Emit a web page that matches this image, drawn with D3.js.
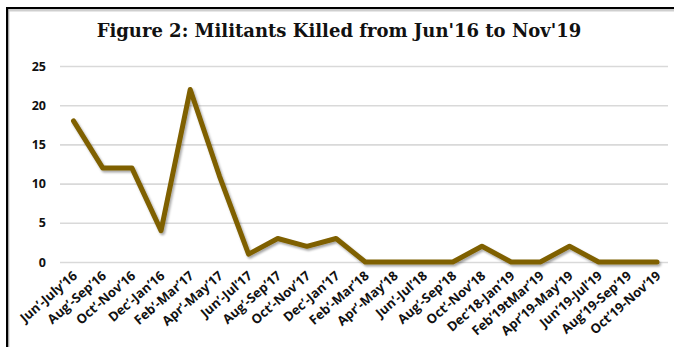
<!DOCTYPE html>
<html>
<head>
<meta charset="utf-8">
<script src="https://cdn.jsdelivr.net/npm/d3@7"></script>
<style>
  html, body { margin: 0; padding: 0; background: #fff; }
  svg { display: block; }
</style>
</head>
<body>
<svg id="chart" width="674" height="347"></svg>
<script>
// Two-month periods and militants killed in each
const periods = [
  "Jun’-July’16", "Aug’-Sep’16", "Oct’-Nov’16", "Dec’-Jan’16", "Feb’-Mar’17",
  "Apr’-May’17", "Jun’-Jul’17", "Aug’-Sep’17", "Oct’-Nov’17", "Dec’-Jan’17",
  "Feb’-Mar’18", "Apr’-May’18", "Jun’-Jul’18", "Aug’-Sep’18", "Oct’-Nov’18",
  "Dec’18-Jan’19", "Feb’19tMar’19", "Apr’19-May’19", "Jun’19-Jul’19",
  "Aug’19-Sep’19", "Oct’19-Nov’19"
];
const killed = [18, 12, 12, 4, 22, 11, 1, 3, 2, 3, 0, 0, 0, 0, 2, 0, 0, 2, 0, 0, 0];
const yTicks = [0, 5, 10, 15, 20, 25];
const title = "Figure 2: Militants Killed from Jun'16 to Nov'19";

const svg = d3.select("#chart");
const W = 674, H = 347;
const defs = svg.append("defs");

// drop shadow for the data line
const f = defs.append("filter").attr("id", "shadow")
  .attr("x", "-5%").attr("y", "-5%").attr("width", "110%").attr("height", "115%");
f.append("feDropShadow").attr("dx", 1.5).attr("dy", 2).attr("stdDeviation", 1.3)
  .attr("flood-color", "#000").attr("flood-opacity", 0.35);

// frame (top and left edges)
svg.append("rect").attr("x", 8).attr("y", 10).attr("width", W).attr("height", 1.5).attr("fill", "#cfcfcf");
svg.append("rect").attr("x", 8).attr("y", 10).attr("width", 1.5).attr("height", H).attr("fill", "#cfcfcf");
svg.append("rect").attr("x", 6).attr("y", 7).attr("width", W).attr("height", 2.2).attr("fill", "#000");
svg.append("rect").attr("x", 6).attr("y", 7).attr("width", 2.2).attr("height", H).attr("fill", "#000");

// title
svg.append("text")
  .attr("x", 339).attr("y", 37)
  .attr("text-anchor", "middle")
  .attr("font-family", "'DejaVu Serif', 'Liberation Serif', serif")
  .attr("font-weight", "bold")
  .attr("font-size", 18)
  .attr("fill", "#111")
  .text(title);

// scales
const x = d3.scalePoint().domain(periods).range([73.5, 657]);
const y = d3.scaleLinear().domain([0, 25]).range([262, 66]);
const gridX0 = 60, gridX1 = 668;

// horizontal gridlines + value axis
const yAxis = d3.axisLeft(y).tickValues(yTicks).tickSize(-(gridX1 - gridX0)).tickPadding(14);
const gy = svg.append("g").attr("transform", `translate(${gridX0},0)`).call(yAxis);
gy.select(".domain").remove();
gy.selectAll(".tick line").attr("stroke", "#d9d9d9").attr("stroke-width", 1.6);
gy.selectAll(".tick text")
  .attr("font-family", "'Open Sans', 'Liberation Sans', sans-serif")
  .attr("font-weight", "bold")
  .attr("font-size", 12.5)
  .attr("fill", "#111");

// category axis with slanted labels
const xAxis = d3.axisBottom(x).tickSize(0).tickPadding(0);
const gx = svg.append("g").attr("transform", "translate(0,262)").call(xAxis);
gx.select(".domain").remove();
gx.selectAll(".tick text")
  .attr("font-family", "'Open Sans', 'Liberation Sans', sans-serif")
  .attr("font-weight", "bold")
  .attr("font-size", 13)
  .attr("fill", "#111")
  .attr("text-anchor", "end")
  .attr("dy", 0)
  .attr("transform", "translate(4,15) rotate(-41)");

// data line
const line = d3.line()
  .x((d, i) => x(periods[i]))
  .y(d => y(d));
svg.append("path")
  .datum(killed)
  .attr("d", line)
  .attr("fill", "none")
  .attr("stroke", "#7f6000")
  .attr("stroke-width", 5)
  .attr("stroke-linejoin", "round")
  .attr("stroke-linecap", "round")
  .attr("filter", "url(#shadow)");
</script>
</body>
</html>
